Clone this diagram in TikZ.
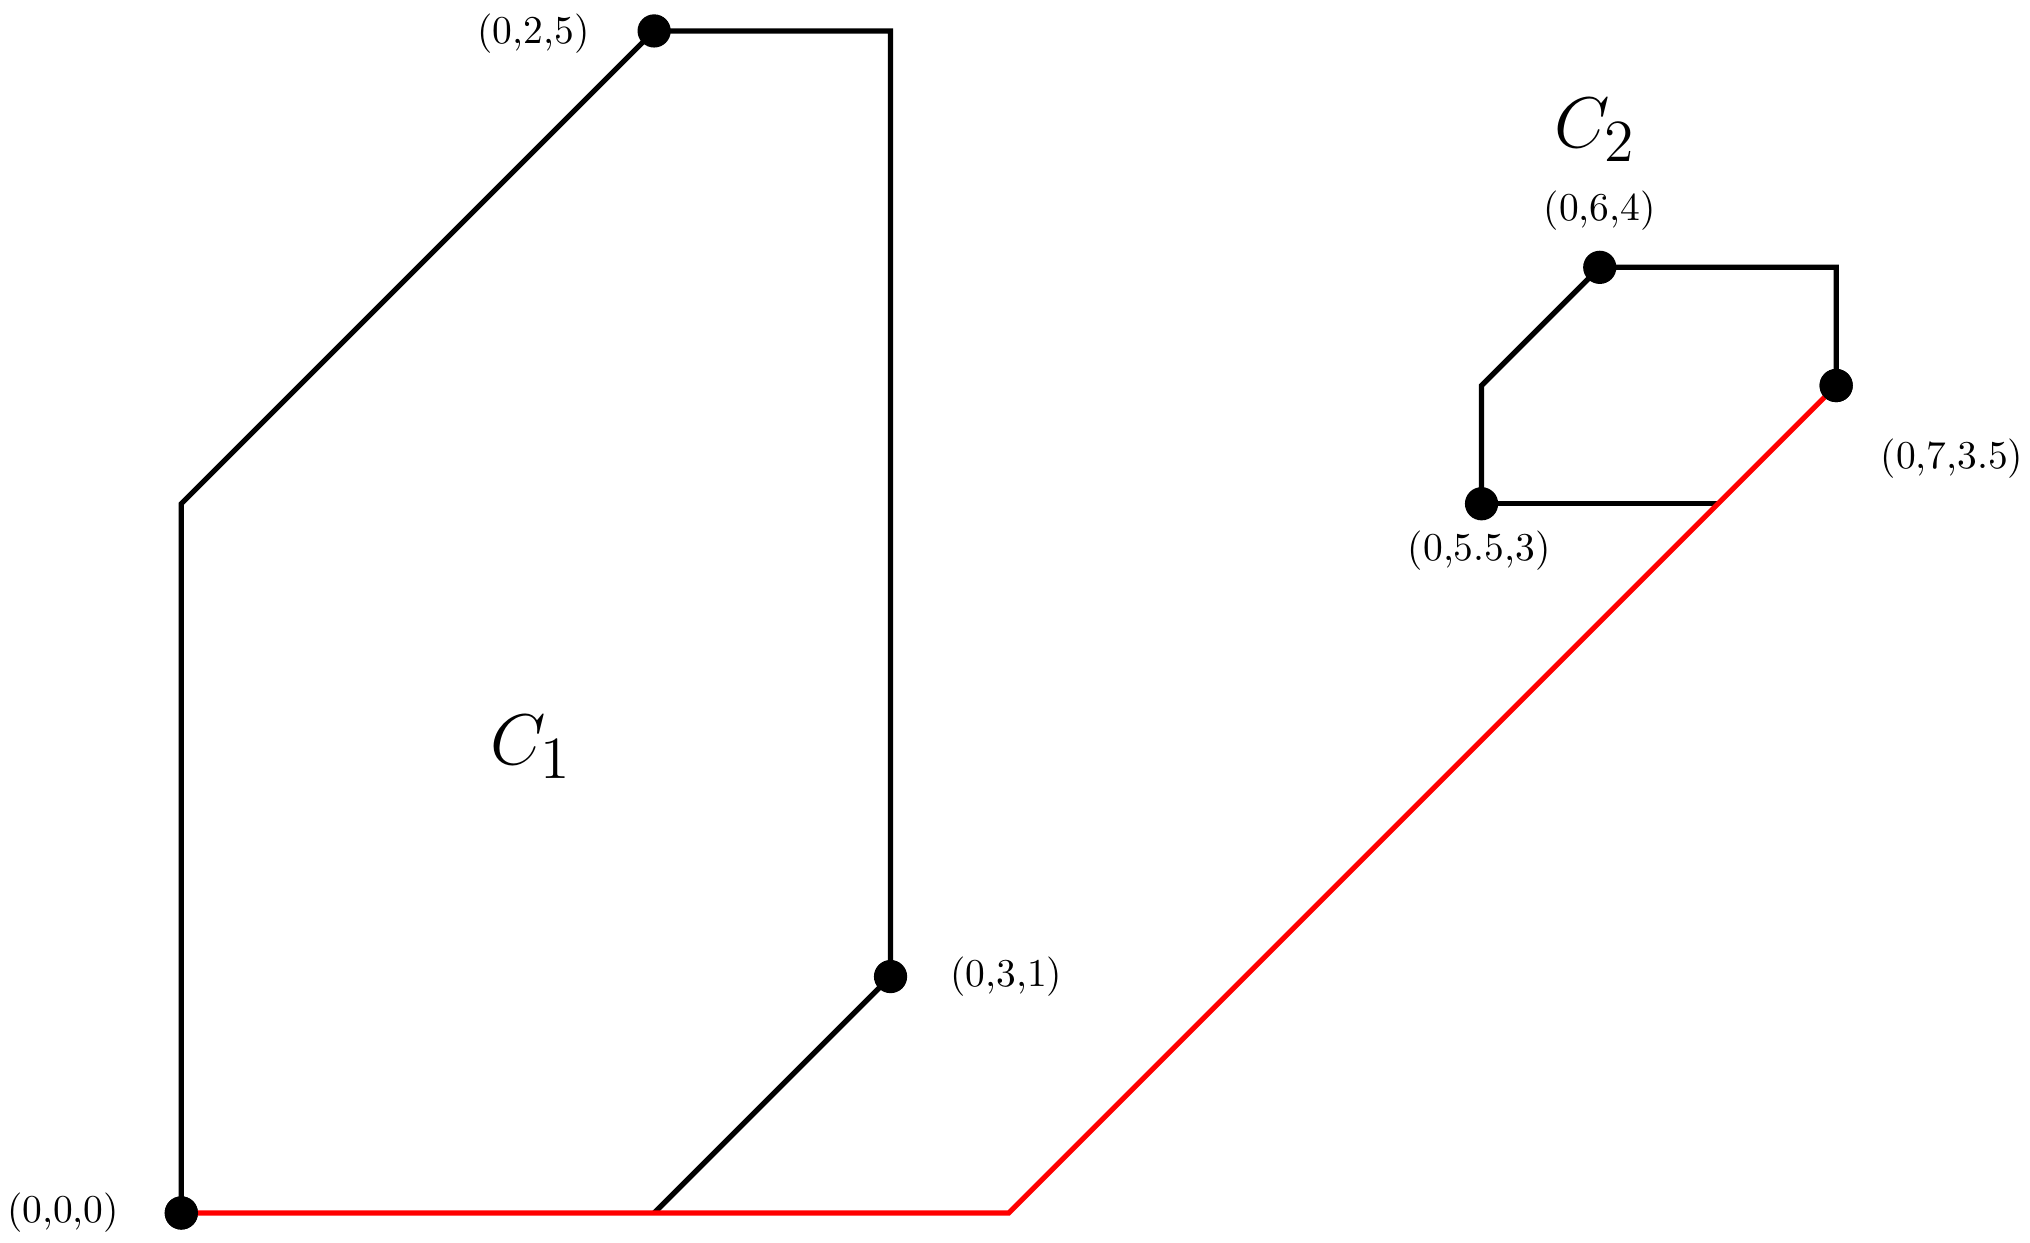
\documentclass[tikz,border=0pt]{standalone}
\begin{document}
\begin{tikzpicture}[x=2cm,y=2cm,
  edge/.style={line width=1.25pt},
  redge/.style={line width=1.25pt,red},
  dot/.style={circle,fill=black,inner sep=0pt,minimum size=8pt},
  lab/.style={font=\fontsize{9.5}{11}\selectfont},
  big/.style={font=\fontsize{19}{22}\selectfont}]
\useasboundingbox (-0.767,-0.126) rectangle (7.82,5.131);
\coordinate (a) at (0,3);
\coordinate (b) at (3,5);
\coordinate (m) at (2,0);
\coordinate (r) at (3.5,0);
\coordinate (c) at (5.5,3.5);
\coordinate (d) at (7,4);
\coordinate (e) at (6.5,3);
\node[dot] (p0) at (0,0) {};
\node[dot] (p1) at (2,5) {};
\node[dot] (p2) at (3,1) {};
\node[dot] (p3) at (6,4) {};
\node[dot] (p4) at (7,3.5) {};
\node[dot] (p5) at (5.5,3) {};
\draw[edge] (p0.center) -- (a) -- (p1.center) -- (b) -- (p2.center) -- (m);
\draw[edge] (p5.center) -- (c) -- (p3.center) -- (d) -- (p4.center);
\draw[edge] (p5.center) -- (e);
\draw[redge] (p0.center) -- (r) -- (p4.center);
\node[dot] at (p0) {};\node[dot] at (p4) {};
\node[lab] at (1.49,4.99) {(0,2,5)};
\node[lab] at (-0.50,0) {(0,0,0)};
\node[lab] at (3.49,1.0) {(0,3,1)};
\node[lab] at (6.0,4.24) {(0,6,4)};
\node[lab] at (7.49,3.19) {(0,7,3.5)};
\node[lab] at (5.49,2.80) {(0,5.5,3)};
\node[big] at (1.48,1.97) {$C_1$};
\node[big] at (5.98,4.58) {$C_2$};
\end{tikzpicture}
\end{document}
